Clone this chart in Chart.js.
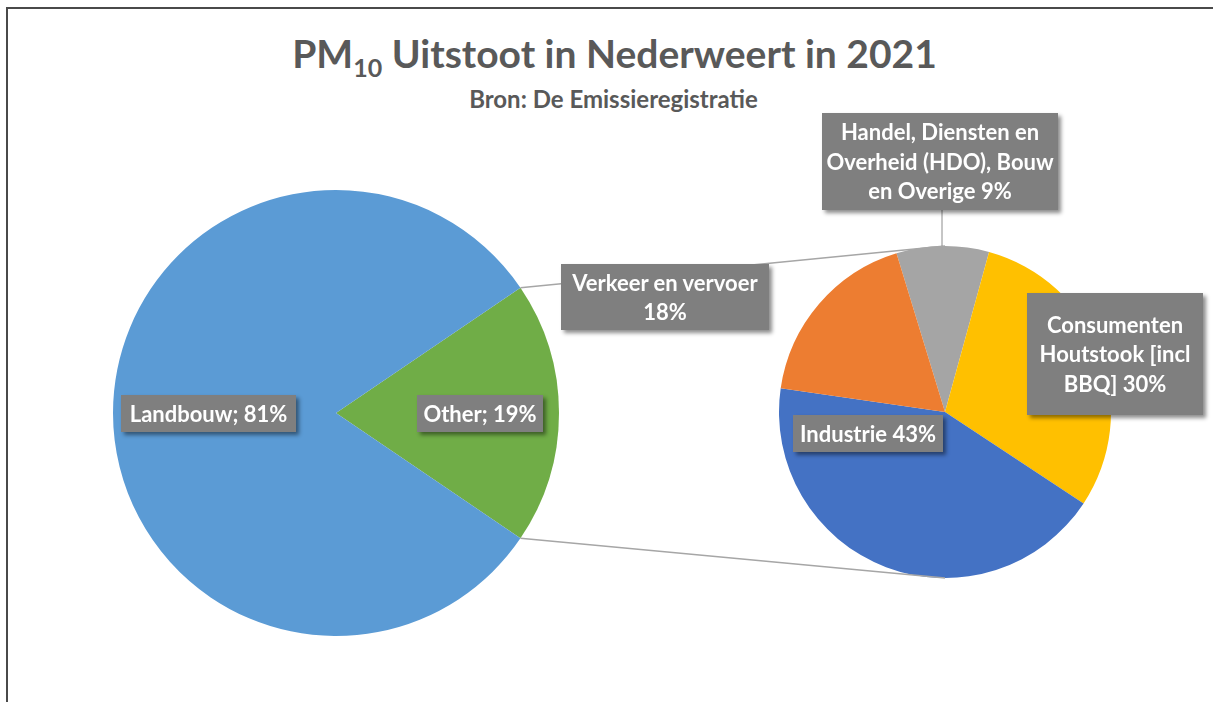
<!DOCTYPE html>
<html>
<head>
<meta charset="utf-8">
<title>PM10 Uitstoot in Nederweert in 2021</title>
<script src="https://cdn.jsdelivr.net/npm/chart.js@4.4.1/dist/chart.umd.min.js"></script>
<style>
  html, body { margin: 0; padding: 0; background: #fff; }
  body { width: 1213px; height: 702px; position: relative; overflow: hidden; font-family: Lato, "Noto Sans", sans-serif; }
  #frame { position: absolute; left: 6px; top: 7px; width: 1240px; height: 693px; border-left: 2px solid #4a4a4a; border-top: 2px solid #4a4a4a; border-bottom: 1px solid #d0d0d0; }
  #title { position: absolute; left: 0; width: 1229px; top: 30px; text-align: center; color: #595959; font-weight: bold; font-size: 39px; }
  #title sub { font-size: 25px; vertical-align: -9px; line-height: 0; }
  #subtitle { position: absolute; left: 0; width: 1227px; top: 84px; text-align: center; color: #595959; font-weight: bold; font-size: 24px; }
  canvas { position: absolute; }
  #lines { left: 0; top: 0; }
  .lbl { position: absolute; background: #7f7f7f; color: #fff; font-weight: bold; font-size: 22px; line-height: 29.5px;
         text-align: center; white-space: pre-line; display: flex; align-items: center; justify-content: center;
         box-shadow: 3px 3px 4px rgba(0,0,0,0.45); box-sizing: border-box; }
</style>
</head>
<body>
<div id="frame"></div>
<div id="title">PM<sub>10</sub> Uitstoot in Nederweert in 2021</div>
<div id="subtitle">Bron: De Emissieregistratie</div>
<canvas id="mainPie" width="446" height="446" style="left:113px; top:190px;"></canvas>
<canvas id="subPie" width="332" height="332" style="left:779px; top:246px;"></canvas>
<canvas id="lines" width="1213" height="702"></canvas>
<div id="labels"></div>

<script>
// ===== DATA =====
const mainLabels = ["Other", "Landbouw"];
const mainValues = [19, 81];
const mainColors = ["#70ad47", "#5b9bd5"];

// "\n" = regelafbreking zoals in het origineel
const subLabels = [
  "Handel, Diensten en\nOverheid (HDO), Bouw\nen Overige",
  "Consumenten\nHoutstook [incl\nBBQ]",
  "Industrie",
  "Verkeer en vervoer\n",
];
const subValues = [9, 30, 43, 18];
const subColors = ["#a5a5a5", "#ffc000", "#4472c4", "#ed7d31"];

// ===== LAYOUT (label boxes: left, top, width, height) =====
const mainBoxes = [
  [417, 395, 126, 37],
  [121, 395, 175, 37],
];
const subBoxes = [
  [822, 113, 236, 97],
  [1027, 293, 176, 122],
  [793, 415, 150, 37],
  [561, 264, 208, 66],
];

document.addEventListener("DOMContentLoaded", function () {
  const mainTotal = mainValues.reduce((a, b) => a + b, 0);

  // "Other" moet recht naar rechts wijzen
  const mainRotation = 90 - (mainValues[0] / mainTotal) * 180;

  const mainChart = new Chart(document.getElementById("mainPie"), {
    type: "pie",
    data: {
      labels: mainLabels,
      datasets: [
        {
          data: mainValues,
          backgroundColor: mainColors,
          borderWidth: 0,
          hoverBorderWidth: 0,
        },
      ],
    },
    options: {
      responsive: false,
      animation: false,
      rotation: mainRotation,
      layout: { padding: 0 },
      plugins: { legend: { display: false }, tooltip: { enabled: false } },
    },
  });

  const subChart = new Chart(document.getElementById("subPie"), {
    type: "pie",
    data: {
      labels: subLabels,
      datasets: [
        {
          data: subValues,
          backgroundColor: subColors,
          borderWidth: 0,
          hoverBorderWidth: 0,
        },
      ],
    },
    options: {
      responsive: false,
      animation: false,
      rotation: -17,
      layout: { padding: 0 },
      plugins: { legend: { display: false }, tooltip: { enabled: false } },
    },
  });

  /* ===== VERBINDINGSLIJNEN ===== */
  const mainCanvas = document.getElementById("mainPie");
  const subCanvas = document.getElementById("subPie");
  const ctx = document.getElementById("lines").getContext("2d");

  const other = mainChart.getDatasetMeta(0).data[0];
  const mx = mainCanvas.offsetLeft + other.x;
  const my = mainCanvas.offsetTop + other.y;
  const mr = other.outerRadius;

  const firstSub = subChart.getDatasetMeta(0).data[0];
  const sx = subCanvas.offsetLeft + firstSub.x;
  const sy = subCanvas.offsetTop + firstSub.y;
  const sr = firstSub.outerRadius;

  ctx.strokeStyle = "#a6a6a6";
  ctx.lineWidth = 1.5;
  ctx.beginPath();
  ctx.moveTo(mx + mr * Math.cos(other.startAngle), my + mr * Math.sin(other.startAngle));
  ctx.lineTo(sx, sy - sr);
  ctx.moveTo(mx + mr * Math.cos(other.endAngle), my + mr * Math.sin(other.endAngle));
  ctx.lineTo(sx, sy + sr);
  ctx.stroke();

  // leader line van het HDO label naar de grijze taart-punt
  const hb = subBoxes[0];
  const lx = hb[0] + hb[2] / 2 + 2;
  ctx.strokeStyle = "#8c8c8c";
  ctx.lineWidth = 1;
  ctx.beginPath();
  ctx.moveTo(lx, hb[1] + hb[3]);
  ctx.lineTo(lx, sy - Math.sqrt(sr * sr - (lx - sx) * (lx - sx)));
  ctx.stroke();

  /* ===== LABELS ===== */
  const holder = document.getElementById("labels");
  const subTotal = subValues.reduce((a, b) => a + b, 0);

  function addLabel(text, box) {
    const div = document.createElement("div");
    div.className = "lbl";
    div.textContent = text;
    div.style.left = box[0] + "px";
    div.style.top = box[1] + "px";
    div.style.width = box[2] + "px";
    div.style.height = box[3] + "px";
    holder.appendChild(div);
  }

  mainLabels.forEach(function (name, i) {
    const pct = Math.round((mainValues[i] / mainTotal) * 100);
    addLabel(name + "; " + pct + "%", mainBoxes[i]);
  });

  subLabels.forEach(function (name, i) {
    const pct = Math.round((subValues[i] / subTotal) * 100);
    addLabel(name + " " + pct + "%", subBoxes[i]);
  });
});
</script>
</body>
</html>
